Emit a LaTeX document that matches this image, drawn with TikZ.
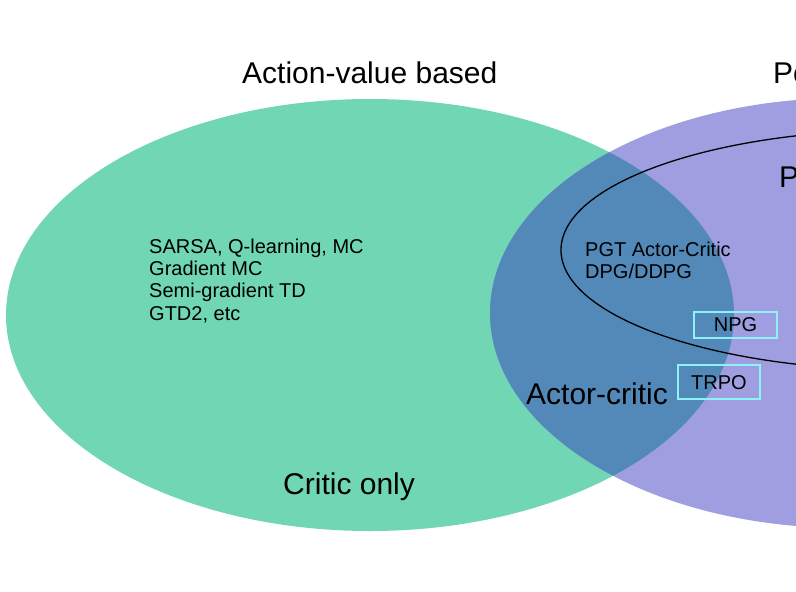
\documentclass[tikz,border=0pt]{standalone}
\usepackage{fontspec}
\setmainfont{Liberation Sans}
\definecolor{vgreen}{HTML}{70D6B4}
\definecolor{vpurple}{HTML}{9E9EE0}
\definecolor{voverlap}{HTML}{5289B8}
\definecolor{vcyan}{HTML}{8EF3F9}
\begin{document}
\begin{tikzpicture}[x=1pt,y=-1pt,
  bigtext/.style={font=\fontsize{30}{34}\selectfont, anchor=base west, inner sep=0pt},
  smalltext/.style={font=\fontsize{20}{22}\selectfont, anchor=base west, inner sep=0pt},
  algbox/.style={draw=vcyan, line width=2pt, inner sep=0pt, font=\fontsize{20}{22}\selectfont}]
\useasboundingbox (0,0) rectangle (796,592);
\clip (0,0) rectangle (796,592);
% sets
\fill[vgreen] (370,315) ellipse [x radius=364, y radius=216];
\fill[vpurple] (845,313) ellipse [x radius=355, y radius=215];
\begin{scope}
  \clip (370,315) ellipse [x radius=364, y radius=216];
  \fill[voverlap] (845,313) ellipse [x radius=355, y radius=215];
\end{scope}
\draw[line width=1.3pt] (901,250) ellipse [x radius=340, y radius=120];
% boxes
\node[algbox, minimum width=83.6pt, minimum height=26.6pt] (npg) at (735.5,325) {NPG};
\node[algbox, minimum width=82.3pt, minimum height=33.7pt] (trpo) at (719,382.2) {TRPO};
% labels
\node[bigtext] (actionvalue) at (242,83.3) {Action-value based};
\node[bigtext] (policybased) at (773,83.3) {Policy based};
\node[bigtext] (policygrad) at (779,187) {Policy gradient};
\node[bigtext] (criticonly) at (283,494) {Critic only};
\node[bigtext] (actorcritic) at (526,404) {Actor-critic};
\node[smalltext] (v1) at (149,253) {SARSA, Q-learning, MC};
\node[smalltext] (v2) at (149,275.3) {Gradient MC};
\node[smalltext] (v3) at (149,297.6) {Semi-gradient TD};
\node[smalltext] (v4) at (149,320) {GTD2, etc};
\node[smalltext] (a1) at (585,256) {PGT Actor-Critic};
\node[smalltext] (a2) at (585,278) {DPG/DDPG};
\end{tikzpicture}
\end{document}
